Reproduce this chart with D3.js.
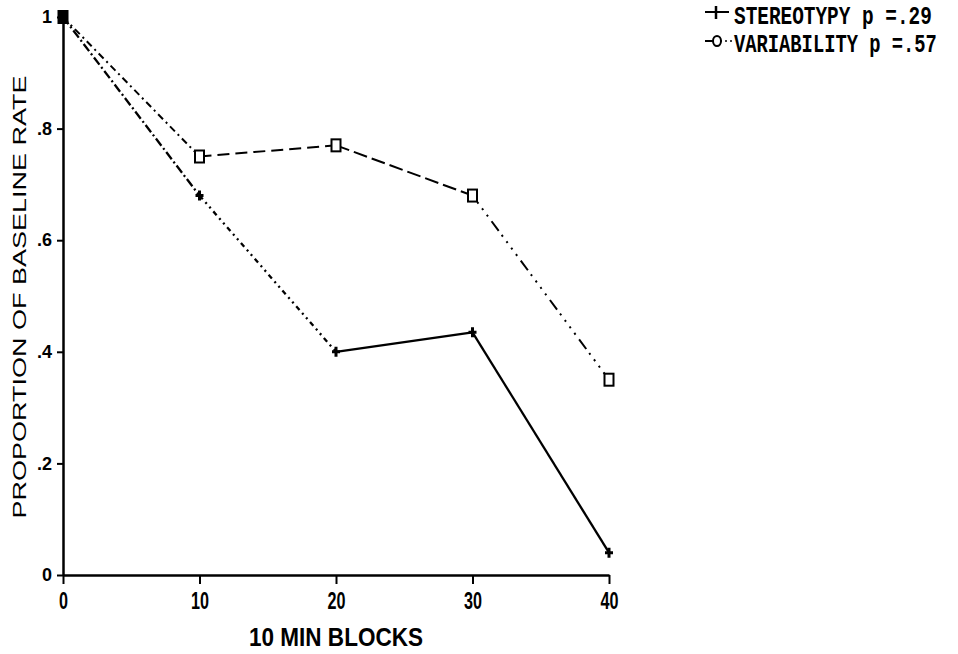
<!DOCTYPE html>
<html>
<head>
<meta charset="utf-8">
<script src="https://cdn.jsdelivr.net/npm/d3@7"></script>
<style>
  body { margin: 0; background: #fff; }
  svg { display: block; }
</style>
</head>
<body>
<svg id="chart" width="958" height="654"></svg>
<script>
// Time blocks (minutes) and the two response series
const blocks = [0, 10, 20, 30, 40];
const stereotypy = [1.0, 0.68, 0.40, 0.435, 0.04];
const variability = [1.0, 0.75, 0.77, 0.68, 0.35];

// Axis ticks
const xTickValues = [0, 10, 20, 30, 40];
const yTickValues = [0, 0.2, 0.4, 0.6, 0.8, 1];
const yTickLabels = ["0", ".2", ".4", ".6", ".8", "1"];

// Legend entries
const legendLabels = ["STEREOTYPY p =.29", "VARIABILITY p =.57"];

// Dash pattern of each connecting segment (segment i joins point i and i+1)
const stereoDash = ["9,3,2,3", "5,4,2,4,2,4", null, null];
const variDash = ["7,4,2,4", "12,6", "14,5", "2,6,2,6,2,6,2,6,12,5"];

const svg = d3.select("#chart");
const ink = "#000";

const x = d3.scaleLinear().domain([0, 40]).range([63, 609]);
const y = d3.scaleLinear().domain([0, 1]).range([575, 17]);

// ---- axes ----
const yAxis = svg.append("g")
  .attr("transform", `translate(${x(0)},0)`)
  .call(d3.axisLeft(y).tickValues(yTickValues)
    .tickFormat((d, i) => yTickLabels[i]).tickSize(6).tickSizeOuter(0).tickPadding(5));
yAxis.select(".domain").attr("stroke", ink).attr("stroke-width", 2.5);
yAxis.selectAll(".tick line").attr("stroke", ink).attr("stroke-width", 2);
yAxis.selectAll(".tick text")
  .attr("fill", ink)
  .style("font-family", "'Liberation Sans', Arial, sans-serif")
  .style("font-weight", "bold")
  .style("font-size", "18px");

const xAxis = svg.append("g")
  .attr("transform", `translate(0,${y(0)})`)
  .call(d3.axisBottom(x).tickValues(xTickValues).tickSize(9).tickSizeOuter(0).tickPadding(8));
xAxis.select(".domain").attr("stroke", ink).attr("stroke-width", 2.5);
xAxis.selectAll(".tick line").attr("stroke", ink).attr("stroke-width", 2);
xAxis.selectAll(".tick text")
  .attr("fill", ink)
  .style("font-family", "'Liberation Sans Narrow', 'Liberation Sans', Arial, sans-serif")
  .style("font-weight", "bold")
  .style("font-size", "24px")
  .attr("textLength", d => String(d).length * 9)
  .attr("lengthAdjust", "spacingAndGlyphs");

// ---- axis titles ----
svg.append("text")
  .attr("x", (x(0) + x(40)) / 2)
  .attr("y", 646)
  .attr("text-anchor", "middle")
  .attr("textLength", 174)
  .attr("lengthAdjust", "spacingAndGlyphs")
  .style("font-family", "'Liberation Sans Narrow', 'Liberation Sans', Arial, sans-serif")
  .style("font-weight", "bold")
  .style("font-size", "26px")
  .attr("fill", ink)
  .text("10 MIN BLOCKS");

svg.append("text")
  .attr("transform", "translate(26,297) rotate(-90)")
  .attr("text-anchor", "middle")
  .attr("textLength", 443)
  .attr("lengthAdjust", "spacingAndGlyphs")
  .style("font-family", "'Liberation Sans', Arial, sans-serif")
  .style("font-size", "19px")
  .attr("fill", ink)
  .text("PROPORTION OF BASELINE RATE");

// ---- series ----
function drawSeries(values, dashes, width) {
  const pts = blocks.map((b, i) => [x(b), y(values[i])]);
  const g = svg.append("g");
  d3.pairs(pts).forEach((pair, i) => {
    g.append("path")
      .attr("d", d3.line()(pair))
      .attr("fill", "none")
      .attr("stroke", ink)
      .attr("stroke-width", width)
      .attr("stroke-dasharray", dashes[i]);
  });
  return pts;
}

const vPts = drawSeries(variability, variDash, 2);
const sPts = drawSeries(stereotypy, stereoDash, 2.3);

// square markers for variability
svg.append("g").selectAll("rect")
  .data(vPts)
  .join("rect")
  .attr("x", d => d[0] - 4.5)
  .attr("y", d => d[1] - 6)
  .attr("width", 9)
  .attr("height", 12)
  .attr("fill", "#fff")
  .attr("stroke", ink)
  .attr("stroke-width", 2);

// filled origin point where both series start
svg.append("rect")
  .attr("x", vPts[0][0] - 5)
  .attr("y", vPts[0][1] - 6)
  .attr("width", 10)
  .attr("height", 12)
  .attr("fill", ink);

// plus markers for stereotypy
svg.append("g").selectAll("path")
  .data(sPts)
  .join("path")
  .attr("d", d => `M${d[0] - 4},${d[1]}H${d[0] + 4}M${d[0]},${d[1] - 5}V${d[1] + 5}`)
  .attr("stroke", ink)
  .attr("stroke-width", 3);

// ---- legend ----
// tall, narrow typewriter-style lettering: a small monospace face stretched vertically
const legendFont = "'Liberation Mono', 'DejaVu Sans Mono', monospace";
const leg = svg.append("g");
function legendText(label, tx, ty, width) {
  const t = leg.append("text")
    .style("font-family", legendFont).style("font-weight", "bold").style("font-size", "16px")
    .attr("fill", ink)
    .text(label);
  const natural = t.node().getComputedTextLength();
  t.attr("transform", `translate(${tx},${ty}) scale(${width / natural},1.6)`);
}
// stereotypy entry
leg.append("path").attr("d", "M705,12H729").attr("stroke", ink).attr("stroke-width", 2);
leg.append("path").attr("d", "M716,6V19").attr("stroke", ink).attr("stroke-width", 2.5);
legendText(legendLabels[0], 734, 24, 198);
// variability entry
leg.append("path").attr("d", "M705,41H720").attr("stroke", ink).attr("stroke-width", 2);
leg.append("path").attr("d", "M720,41H732").attr("stroke", ink).attr("stroke-width", 1.6)
  .attr("stroke-dasharray", "2,3");
leg.append("ellipse").attr("cx", 717).attr("cy", 41).attr("rx", 4).attr("ry", 5)
  .attr("fill", "#fff").attr("stroke", ink).attr("stroke-width", 2);
legendText(legendLabels[1], 734, 52, 203);
</script>
</body>
</html>
